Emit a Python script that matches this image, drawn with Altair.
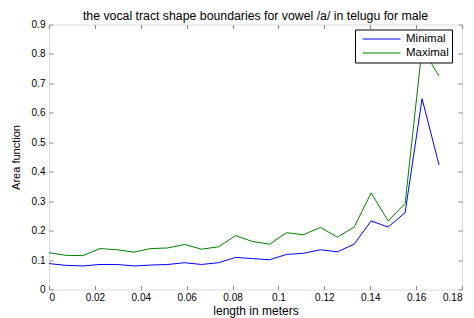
import altair as alt
import pandas as pd

length_m = [0.0, 0.0074, 0.0148, 0.0222, 0.0296, 0.0370, 0.0443, 0.0517,
            0.0591, 0.0665, 0.0739, 0.0813, 0.0887, 0.0961, 0.1035, 0.1109,
            0.1183, 0.1257, 0.1330, 0.1404, 0.1478, 0.1552, 0.1626, 0.1700]
minimal = [0.088, 0.082, 0.080, 0.085, 0.085, 0.080, 0.083, 0.085,
           0.091, 0.085, 0.091, 0.109, 0.105, 0.101, 0.119, 0.123,
           0.135, 0.128, 0.154, 0.233, 0.212, 0.261, 0.648, 0.423]
maximal = [0.125, 0.116, 0.115, 0.139, 0.135, 0.127, 0.139, 0.141,
           0.153, 0.137, 0.145, 0.183, 0.163, 0.154, 0.193, 0.186,
           0.211, 0.178, 0.212, 0.328, 0.233, 0.292, 0.820, 0.725]
series_names = ["Minimal", "Maximal"]
series_colors = ["#0000ff", "#008000"]
x_ticks = [0, 0.02, 0.04, 0.06, 0.08, 0.1, 0.12, 0.14, 0.16, 0.18]
y_ticks = [0, 0.1, 0.2, 0.3, 0.4, 0.5, 0.6, 0.7, 0.8, 0.9]

rows = []
for name, vals in zip(series_names, [minimal, maximal]):
    for xv, yv in zip(length_m, vals):
        rows.append({"x": xv, "y": yv, "series": name})
df = pd.DataFrame(rows)

FONT = "Liberation Sans"
TICK = 4

x_scale = alt.Scale(domain=[0, 0.18], nice=False, zero=False)
y_scale = alt.Scale(domain=[0, 0.9], nice=False, zero=False)

base = alt.Chart(df)

lines = base.mark_line(strokeWidth=1, clip=True).encode(
    x=alt.X("x:Q", scale=x_scale,
            axis=alt.Axis(orient="bottom", values=x_ticks, format="~g",
                          title="length in meters", domain=False, grid=False,
                          tickSize=TICK, offset=-TICK, labelPadding=3,
                          titlePadding=3, titleFontWeight="normal",
                          titleFont=FONT, titleFontSize=12)),
    y=alt.Y("y:Q", scale=y_scale,
            axis=alt.Axis(orient="left", values=y_ticks, format="~g",
                          title="Area function", domain=False, grid=False,
                          tickSize=TICK, offset=-TICK, labelPadding=4,
                          titlePadding=10, titleFontWeight="normal",
                          titleFont=FONT, titleFontSize=11)),
    color=alt.Color("series:N",
                    scale=alt.Scale(domain=series_names, range=series_colors),
                    sort=series_names,
                    legend=alt.Legend(title=None, orient="none",
                                      legendX=306, legendY=5,
                                      symbolType="stroke", symbolSize=1444,
                                      symbolStrokeWidth=1, clipHeight=13,
                                      symbolOffset=4, labelOffset=5,
                                      rowPadding=1, padding=3,
                                      strokeColor="black", fillColor="white",
                                      labelFontSize=11.5, labelFont=FONT,
                                      labelColor="black")),
)

mirror = base.mark_line(opacity=0).encode(
    x=alt.X("x:Q", scale=x_scale,
            axis=alt.Axis(orient="top", values=x_ticks, labels=False, title=None,
                          domain=False, grid=False, tickSize=TICK, offset=-TICK)),
    y=alt.Y("y:Q", scale=y_scale,
            axis=alt.Axis(orient="right", values=y_ticks, labels=False, title=None,
                          domain=False, grid=False, tickSize=TICK, offset=-TICK)),
)

chart = alt.layer(mirror, lines).resolve_axis(
    x="independent", y="independent"
).properties(
    width=413, height=265,
    autosize=alt.AutoSizeParams(type="none"),
    padding={"left": 41, "top": 16.5, "right": 4, "bottom": 28},
    title=alt.Title("the vocal tract shape boundaries for vowel /a/ in telugu for male",
                    fontSize=12.3, font=FONT, fontWeight="normal", color="black",
                    anchor="middle", offset=5, dy=7.5),
).configure_view(
    stroke="black", strokeWidth=1.5
).configure_axis(
    labelFont=FONT, labelFontSize=11, labelColor="black",
    tickColor="black", tickWidth=1,
).configure(background="white")

chart.save("out.html", embed_options={"renderer": "svg", "actions": False})
